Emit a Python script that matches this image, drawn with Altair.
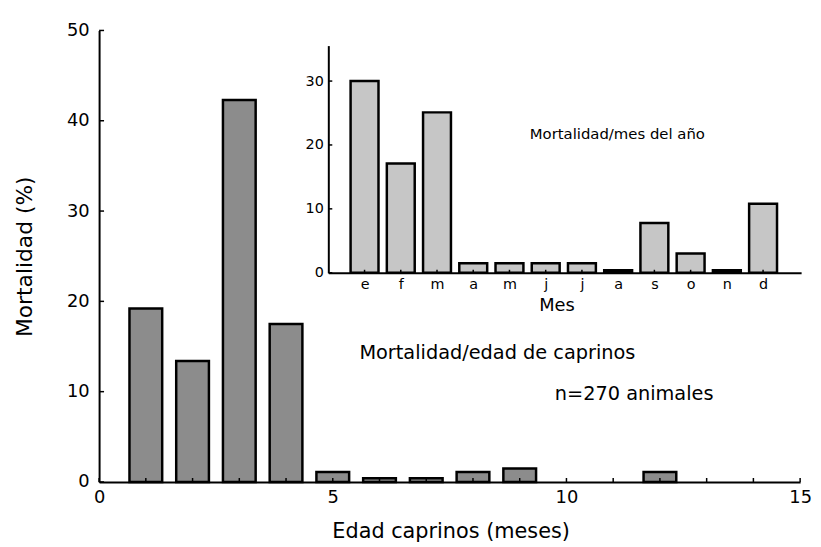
import json
import altair as alt
import pandas as pd

# ---- data ----
ages = [1, 2, 3, 4, 5, 6, 7, 8, 9, 12]
age_mort = [19.2, 13.4, 42.3, 17.5, 1.1, 0.4, 0.4, 1.1, 1.5, 1.1]

months = ["e", "f", "m", "a", "m", "j", "j", "a", "s", "o", "n", "d"]
month_num = [1, 2, 3, 4, 5, 6, 7, 8, 9, 10, 11, 12]
month_mort = [30.0, 17.1, 25.1, 1.5, 1.5, 1.5, 1.5, 0.4, 7.8, 3.0, 0.4, 10.8]

main_y_ticks = [0, 10, 20, 30, 40, 50]
main_x_ticks = list(range(0, 16))
main_x_labels = [0, 5, 10, 15]
inset_y_ticks = [0, 10, 20, 30]

main_notes = ["Mortalidad/edad de caprinos", "n=270 animales"]
main_notes_x = [5.57, 9.75]
main_notes_y = [14.3, 9.7]
inset_note = ["Mortalidad/mes del año"]
inset_note_x = [5.56]
inset_note_y = [21.7]

# ---- layout / style ----
W, H = 708, 456
FONT = "DejaVu Sans"
IN_X0, IN_X1 = 231.5, 709.0      # inset x range (px inside plot area)
IN_Y0, IN_Y1 = 244.7, 15.3       # inset y range (px inside plot area)

main_df = pd.DataFrame({"edad": ages, "mort": age_mort})
inset_df = pd.DataFrame({"mes": month_num, "mort": month_mort})

xs_main = alt.Scale(domain=[0, 15], nice=False, zero=False)
ys_main = alt.Scale(domain=[0, 50], nice=False)
xs_in = alt.Scale(domain=[0, 13.05], range=[IN_X0, IN_X1], nice=False, zero=False)
ys_in = alt.Scale(domain=[0, 35.55], range=[IN_Y0, IN_Y1], nice=False)

main_x_axis = alt.Axis(values=main_x_labels, format="d", labelFontSize=18, labelPadding=7,
                       labelFlush=False, title="Edad caprinos (meses)", titleFontSize=21,
                       titleFontWeight="normal", titleX=355, titleY=50, titleBaseline="middle")
main_y_axis = alt.Axis(values=main_y_ticks, labelFontSize=18, labelPadding=10,
                       title="Mortalidad (%)", titleFontSize=22, titleFontWeight="normal",
                       titleX=-75, titleY=H / 2, titleBaseline="middle", titleAngle=-90)

main_bars = alt.Chart(main_df).transform_calculate(
    x0="datum.edad - 0.35", x1="datum.edad + 0.35"
).mark_bar(fill="#8c8c8c", stroke="black", strokeWidth=2.5).encode(
    x=alt.X("x0:Q", scale=xs_main, axis=main_x_axis),
    x2="x1:Q",
    y=alt.Y("mort:Q", scale=ys_main, axis=main_y_axis),
    y2=alt.datum(0),
)

main_yt = alt.Chart(pd.DataFrame({"mort": main_y_ticks})).mark_rule(
    color="black", strokeWidth=1.5
).encode(y=alt.Y("mort:Q", scale=ys_main), x=alt.value(0), x2=alt.value(5))

main_xt = alt.Chart(pd.DataFrame({"x0": main_x_ticks})).mark_rule(
    color="black", strokeWidth=1.5
).encode(x=alt.X("x0:Q", scale=xs_main), y=alt.value(H), y2=alt.value(H - 4))

main_text = alt.Chart(pd.DataFrame({"x0": main_notes_x, "mort": main_notes_y, "t": main_notes})).mark_text(
    align="left", baseline="middle", fontSize=19.5, font=FONT, color="black"
).encode(x=alt.X("x0:Q", scale=xs_main), y=alt.Y("mort:Q", scale=ys_main), text="t:N")

main_group = alt.layer(main_bars, main_yt, main_xt, main_text)

label_expr = json.dumps(months) + "[datum.value - 1]"
in_x_axis = alt.Axis(values=month_num, labelExpr=label_expr, labelFontSize=14.5, labelPadding=5,
                     orient="bottom", offset=-(H - IN_Y0), title="Mes", titleFontSize=18,
                     titleFontWeight="normal", titleX=462, titleY=33, titleBaseline="middle",
                     labelFlush=False)
in_y_axis = alt.Axis(values=inset_y_ticks, labelFontSize=14.5, labelPadding=5, orient="left",
                     offset=-IN_X0, title=None)

in_bars = alt.Chart(inset_df).transform_calculate(
    x0="datum.mes - 0.385", x1="datum.mes + 0.385"
).mark_bar(fill="#c6c6c6", stroke="black", strokeWidth=2.5).encode(
    x=alt.X("x0:Q", scale=xs_in, axis=in_x_axis),
    x2="x1:Q",
    y=alt.Y("mort:Q", scale=ys_in, axis=in_y_axis),
    y2=alt.datum(0),
)

in_yt = alt.Chart(pd.DataFrame({"mort": inset_y_ticks})).mark_rule(
    color="black", strokeWidth=1.5
).encode(y=alt.Y("mort:Q", scale=ys_in), x=alt.value(IN_X0), x2=alt.value(IN_X0 + 4))

in_xt = alt.Chart(pd.DataFrame({"x0": month_num})).mark_rule(
    color="black", strokeWidth=1.5
).encode(x=alt.X("x0:Q", scale=xs_in), y=alt.value(IN_Y0), y2=alt.value(IN_Y0 - 3))

in_text = alt.Chart(pd.DataFrame({"x0": inset_note_x, "mort": inset_note_y, "t": inset_note})).mark_text(
    align="left", baseline="middle", fontSize=15, font=FONT, color="black"
).encode(x=alt.X("x0:Q", scale=xs_in), y=alt.Y("mort:Q", scale=ys_in), text="t:N")

inset_group = alt.layer(in_bars, in_yt, in_xt, in_text)

chart = alt.layer(main_group, inset_group).resolve_scale(
    x="independent", y="independent"
).resolve_axis(x="independent", y="independent").properties(
    width=W, height=H,
    autosize=alt.AutoSizeParams(type="none"),
    padding={"left": 92, "top": 20, "right": 13, "bottom": 63},
    background="white",
).configure_view(stroke=None).configure_axis(
    grid=False, ticks=False, tickSize=0, domainColor="black", domainWidth=2,
    labelColor="black", titleColor="black", labelFont=FONT, titleFont=FONT,
)

chart.save("out.html", embed_options={"renderer": "svg", "actions": False})
